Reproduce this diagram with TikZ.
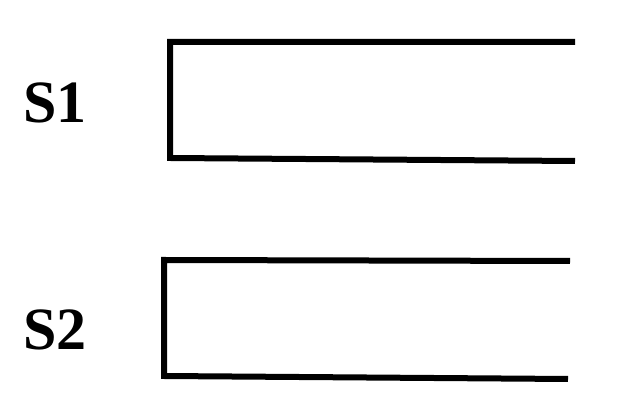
\documentclass[tikz,border=0pt]{standalone}
\usepackage{fontspec}
\setmainfont{Liberation Serif}
\begin{document}
\begin{tikzpicture}[x=1pt,y=1pt,
  lab/.style={anchor=base west,inner sep=0pt,font=\fontsize{60}{60}\selectfont\bfseries},
  bracket/.style={line width=6pt,line join=miter,black}]
\useasboundingbox (0,0) rectangle (622,420);
\node[lab] (s1) at (23,297.5) {S1};
\node[lab] (s2) at (23,70) {S2};
\coordinate (a1) at (575,378);
\coordinate (a2) at (170,378);
\coordinate (a3) at (170,262);
\coordinate (a4) at (575,259);
\draw[bracket] (a1) -- (a2) -- (a3) -- (a4);
\coordinate (b1) at (570,159);
\coordinate (b2) at (164,160);
\coordinate (b3) at (164,44);
\coordinate (b4) at (568,41);
\draw[bracket] (b1) -- (b2) -- (b3) -- (b4);
\end{tikzpicture}
\end{document}
